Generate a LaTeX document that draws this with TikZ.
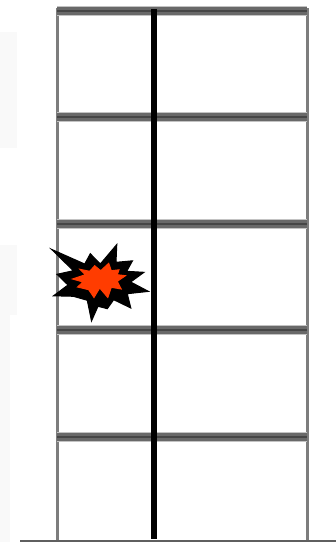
\documentclass[tikz,border=0pt]{standalone}
\definecolor{wallgray}{RGB}{125,125,125}
\definecolor{slabhalo}{RGB}{195,195,195}
\definecolor{slabgray}{RGB}{105,105,105}
\definecolor{slabdark}{RGB}{70,70,70}
\definecolor{patchgray}{RGB}{249,249,249}
\definecolor{groundgray}{RGB}{95,95,95}
\definecolor{blastred}{RGB}{255,60,0}
\tikzset{
  wall/.style={draw=wallgray, line width=3pt},
  ground/.style={draw=groundgray, line width=3pt},
  slabedge/.style={draw=slabhalo, line width=10pt},
  slab/.style={draw=slabgray, line width=8pt},
  slabline/.style={draw=slabdark, line width=2pt},
  column/.style={draw=black, line width=6pt},
  patch/.style={fill=patchgray, draw=none},
  blastout/.style={fill=black, draw=black, line width=1pt, line join=miter},
  blastin/.style={fill=blastred, draw=blastred, line width=1pt, line join=miter},
}
\begin{document}
\begin{tikzpicture}[x=1pt, y=-1pt]
\useasboundingbox (0,0) rectangle (336,542);

% --- Background patches ---
\fill[patch] (0,32) rectangle (17,148);
\fill[patch] (0,245) rectangle (17,315);
\fill[patch] (0,315) rectangle (10,542);

% --- Walls and ground ---
\draw[wall] (57,8) -- (57,540);
\draw[wall] (307,8) -- (307,540);
\draw[ground] (20,541) -- (336,541);

% --- Floor slabs ---
\foreach \y in {10.5,117,224,330,437}{
  \draw[slabedge] (57,\y) -- (307,\y);
  \draw[slab] (57,\y) -- (307,\y);
  \draw[slabline] (57,\y) -- (307,\y);
}

% --- Central column ---
\draw[column] (154,9) -- (154,539);

% --- Blast, outer ---
\path[blastout] (51.5,249.3) -- (84.7,264) -- (90.3,253.7) -- (100.3,264) -- (116.8,244.5)
  -- (116,262.3) -- (132.5,260.8) -- (126.7,271.3) -- (144,272.3) -- (130.7,282)
  -- (148.5,291.4) -- (127.3,293.7) -- (130.8,308) -- (113.7,299.7) -- (107.3,308.7)
  -- (98,306.3) -- (91.5,321) -- (87.3,300.3) -- (73.3,296.3) -- (53.5,295.8)
  -- (68,285) -- (57,274.3) -- (73.3,270.7) -- cycle;

% --- Blast, inner ---
\path[blastin] (72.5,279) -- (85.3,274.7) -- (80,269.3) -- (89.7,271.3) -- (94.7,265.7)
  -- (100.7,270.7) -- (108.7,263.3) -- (111.3,270.7) -- (119,269.8) -- (117.3,274.7)
  -- (125.5,275.7) -- (117.3,281.3) -- (121.2,289) -- (111.3,287.3) -- (107.8,297.5)
  -- (99.7,288) -- (94,297.5) -- (88.7,289.7) -- (77.5,287) -- (83,282) -- cycle;

\end{tikzpicture}
\end{document}
